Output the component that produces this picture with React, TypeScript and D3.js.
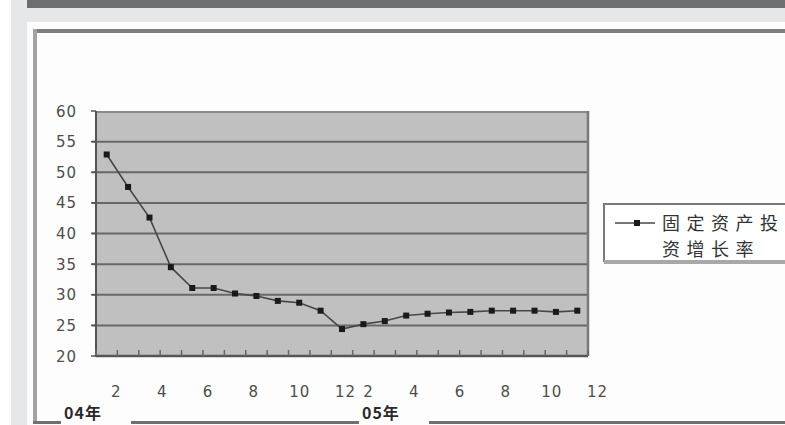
import React from "react";
import * as d3 from "d3";

// Month of each observation (two consecutive years)
const months: string[] = [
  "1", "2", "3", "4", "5", "6", "7", "8", "9", "10", "11", "12",
  "2", "3", "4", "5", "6", "7", "8", "9", "10", "11", "12",
];
// Fixed-asset investment growth rate (%)
const growth: number[] = [
  52.9, 47.6, 42.6, 34.5, 31.1, 31.1, 30.2, 29.8, 29.0, 28.7, 27.4, 24.4,
  25.2, 25.7, 26.6, 26.9, 27.1, 27.2, 27.4, 27.4, 27.4, 27.2, 27.4,
];
const yTicks: number[] = [20, 25, 30, 35, 40, 45, 50, 55, 60];
const yearLabels: string[] = ["04年", "05年"];
const yearStart: number[] = [0, 12];
const legendLines: string[] = ["固定资产投", "资增长率"];

const W = 785;
const H = 425;
const plot = { left: 96, right: 588, top: 111, bottom: 356 };

export default function App() {
  const idx = d3.range(growth.length);
  const x = d3.scaleBand<number>().domain(idx).range([plot.left, plot.right]).padding(0);
  const y = d3.scaleLinear().domain([20, 60]).range([plot.bottom, plot.top]);
  // category labels sit on a slightly wider band than the plot
  const xl = d3.scaleBand<number>().domain(idx).range([plot.left - 14, plot.right + 21]).padding(0);
  const cx = (i: number) => (x(i) as number) + x.bandwidth() / 2;
  const line = d3
    .line<number>()
    .x((_, i) => cx(i))
    .y((d) => y(d));

  const numFont = "'DejaVu Sans', sans-serif";
  const cjkFont = "'Noto Sans CJK SC', sans-serif";

  const yearX = [xl(yearStart[0])! - 18, xl(yearStart[1])! + 5];

  return (
    <svg
      width={W}
      height={H}
      style={{ position: "absolute", left: 0, top: 0, display: "block", background: "#fff" }}
    >
      {/* page frame */}
      <rect x={11} y={0} width={W - 11} height={H} fill="#e6e7e9" />
      <rect x={27} y={0} width={W - 27} height={8} fill="#6d6e71" />
      <rect x={27} y={22} width={W - 27} height={H - 22} fill="#fdfdfd" />
      {/* chart area border */}
      <rect x={33} y={29} width={W - 33} height={4} fill="#808080" />
      <rect x={33} y={29} width={4} height={395} fill="#a3a3a3" />
      <rect x={33} y={421} width={W - 33} height={3} fill="#707070" />

      {/* plot background */}
      <rect
        x={plot.left}
        y={plot.top}
        width={plot.right - plot.left}
        height={plot.bottom - plot.top}
        fill="#c0c0c0"
      />
      <line x1={plot.left} x2={plot.right} y1={plot.top + 1} y2={plot.top + 1} stroke="#8a8a8a" strokeWidth={2} />
      {yTicks.slice(1, -1).map((t) => (
        <line key={t} x1={plot.left - 4} x2={plot.right} y1={y(t)} y2={y(t)} stroke="#686868" strokeWidth={2} />
      ))}
      <line x1={plot.right} x2={plot.right} y1={plot.top} y2={plot.bottom} stroke="#7a7a7a" strokeWidth={2.5} />

      {/* y axis */}
      <line x1={plot.left} x2={plot.left} y1={plot.top} y2={plot.bottom + 1} stroke="#555" strokeWidth={2} />
      {yTicks.map((t) => (
        <g key={t}>
          <line x1={plot.left - 5} x2={plot.left} y1={y(t)} y2={y(t)} stroke="#555" strokeWidth={1.5} />
          <text
            x={77}
            y={y(t) + 5.5}
            textAnchor="end"
            fontFamily={numFont}
            fontSize={15}
            letterSpacing={1}
            fill="#4d4d4d"
          >
            {t}
          </text>
        </g>
      ))}

      {/* x axis */}
      <line x1={plot.left} x2={plot.right} y1={plot.bottom} y2={plot.bottom} stroke="#555" strokeWidth={2.5} />
      {d3.range(growth.length + 1).map((i) => {
        const xx = plot.left + i * x.step();
        return <line key={i} x1={xx} x2={xx} y1={plot.bottom - 6} y2={plot.bottom} stroke="#666" strokeWidth={1.5} />;
      })}
      {months.map((m, i) =>
        +m % 2 === 0 ? (
          <text
            key={i}
            x={(xl(i) as number) + xl.bandwidth() / 2}
            y={397}
            textAnchor="middle"
            fontFamily={numFont}
            fontSize={15}
            letterSpacing={1}
            fill="#4d4d4d"
          >
            {m}
          </text>
        ) : null
      )}

      {/* year labels on the lower frame */}
      {yearLabels.map((lab, k) => (
        <g key={lab}>
          <rect x={yearX[k] - 3} y={404} width={70} height={21} fill="#fdfdfd" />
          <text x={yearX[k]} y={419} fontFamily={cjkFont} fontWeight="bold" fontSize={16} letterSpacing={1} fill="#2a2a2a">
            {lab}
          </text>
        </g>
      ))}

      {/* series */}
      <path d={line(growth) ?? ""} fill="none" stroke="#474747" strokeWidth={1.6} />
      {growth.map((v, i) => (
        <rect key={i} x={cx(i) - 3} y={y(v) - 3} width={6} height={6} fill="#1a1a1a" />
      ))}

      {/* legend */}
      <rect x={604} y={204} width={200} height={57} fill="#fff" stroke="#7a7a7a" strokeWidth={2} />
      <rect x={604} y={260} width={200} height={4} fill="#a8a8a8" />
      <line x1={615} x2={655} y1={223} y2={223} stroke="#474747" strokeWidth={1.6} />
      <rect x={634} y={220} width={6} height={6} fill="#1a1a1a" />
      {legendLines.map((s, i) => (
        <text
          key={s}
          x={662}
          y={230 + i * 26}
          fontFamily={cjkFont}
          fontSize={18}
          letterSpacing={6.5}
          fill="#333"
        >
          {s}
        </text>
      ))}
    </svg>
  );
}
